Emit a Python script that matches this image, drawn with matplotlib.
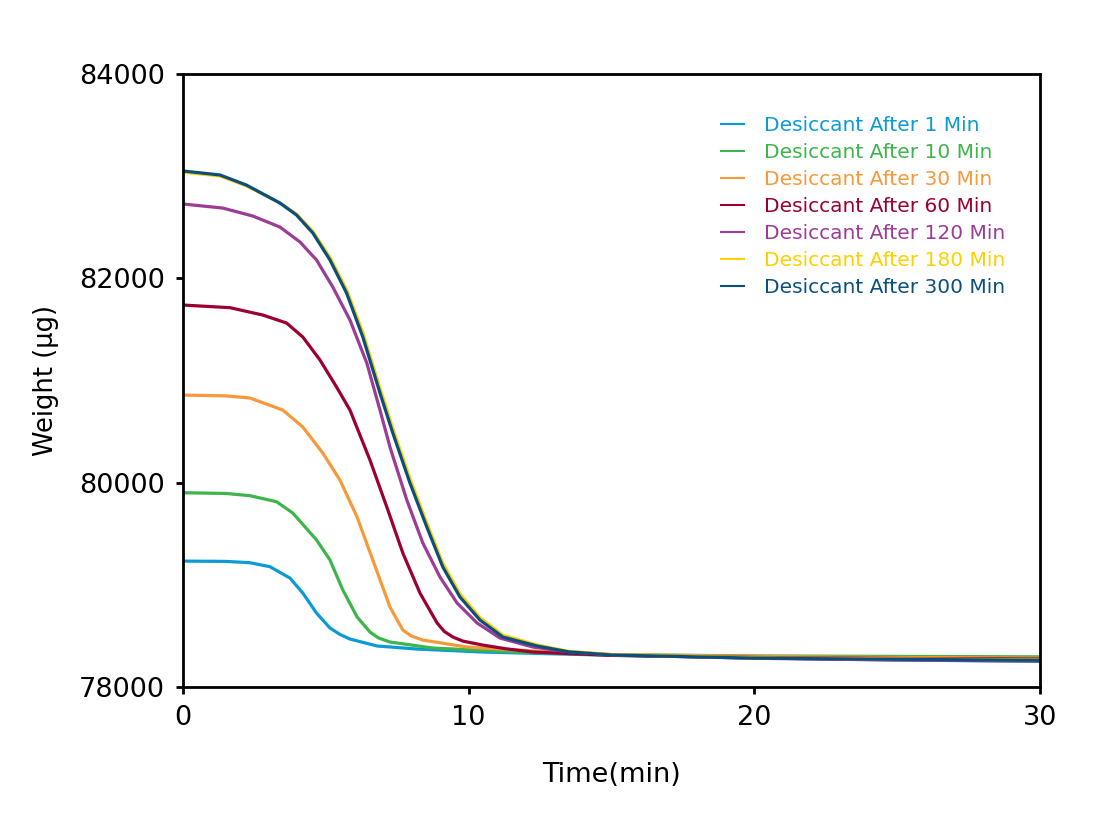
import numpy as np
import matplotlib.pyplot as plt

plt.rcParams['font.family'] = ['DejaVu Sans']

# Curvas: tiempo (min) y peso (µg)
t_1 = [0, 1.5, 2.35, 3.05, 3.75, 4.2, 4.68, 5.15, 5.5, 5.85, 6.8, 8.2, 10.5, 13, 15, 20, 25, 30]
w_1 = [79233, 79230, 79217, 79178, 79067, 78920, 78724, 78578, 78515, 78470, 78402, 78372,
       78343, 78325, 78312, 78285, 78265, 78252]

t_10 = [0, 1.5, 2.35, 3.28, 3.85, 4.68, 5.15, 5.6, 6.1, 6.55, 6.85, 7.25, 8.75, 11.7, 15, 20,
        25, 30]
w_10 = [79902, 79895, 79873, 79814, 79703, 79440, 79244, 78950, 78686, 78539, 78480, 78441,
        78382, 78343, 78318, 78305, 78300, 78296]

t_30 = [0, 1.5, 2.35, 3.5, 4.2, 4.9, 5.5, 6.1, 6.65, 7.25, 7.7, 8.0, 8.4, 9.94, 12.25, 15, 20,
        25, 30]
w_30 = [80858, 80850, 80829, 80711, 80545, 80290, 80026, 79664, 79243, 78783, 78558, 78500,
        78460, 78392, 78353, 78318, 78300, 78290, 78282]

t_60 = [0, 1.65, 2.8, 3.63, 4.2, 4.8, 5.38, 5.85, 6.55, 7.14, 7.7, 8.3, 8.9, 9.15, 9.45, 9.8,
        10.5, 11.3, 12.25, 15, 20, 25, 30]
w_60 = [81739, 81713, 81641, 81563, 81426, 81201, 80937, 80711, 80222, 79762, 79312, 78920,
        78627, 78545, 78490, 78450, 78411, 78375, 78343, 78310, 78290, 78280, 78274]

t_120 = [0, 1.4, 2.45, 3.4, 4.1, 4.68, 5.25, 5.85, 6.44, 6.9, 7.25, 7.84, 8.4, 9.0, 9.6, 10.3,
         11.1, 12.25, 13.5, 15, 20, 25, 30]
w_120 = [82728, 82688, 82610, 82502, 82356, 82180, 81915, 81592, 81171, 80711, 80349, 79830,
         79410, 79077, 78822, 78627, 78480, 78392, 78345, 78315, 78282, 78265, 78255]

t_180 = [0, 1.3, 2.22, 3.4, 3.98, 4.55, 5.15, 5.73, 6.3, 6.9, 7.35, 7.95, 8.54, 9.1, 9.7, 10.4,
         11.2, 12.4, 13.5, 15, 20, 25, 30]
w_180 = [83040, 83002, 82906, 82740, 82628, 82460, 82205, 81890, 81470, 80925, 80530, 80040,
         79605, 79212, 78912, 78680, 78508, 78412, 78350, 78318, 78286, 78276, 78266]

t_300 = [0, 1.3, 2.22, 3.4, 3.98, 4.55, 5.15, 5.73, 6.3, 6.9, 7.35, 7.95, 8.54, 9.1, 9.7, 10.4,
         11.2, 12.4, 13.5, 15, 20, 25, 30]
w_300 = [83051, 83012, 82914, 82737, 82620, 82444, 82180, 81857, 81426, 80878, 80486, 79997,
         79566, 79175, 78881, 78656, 78490, 78402, 78345, 78314, 78283, 78272, 78262]

etiquetas = ['Desiccant After 1 Min', 'Desiccant After 10 Min', 'Desiccant After 30 Min',
             'Desiccant After 60 Min', 'Desiccant After 120 Min', 'Desiccant After 180 Min',
             'Desiccant After 300 Min']
colores = ['#0A9BD7', '#3DB54A', '#F7993A', '#9B0031', '#9C3C97', '#FFD000', '#0B4F7E']
series = [(t_1, w_1), (t_10, w_10), (t_30, w_30), (t_60, w_60),
          (t_120, w_120), (t_180, w_180), (t_300, w_300)]

fig = plt.figure(figsize=(11.08, 8.16), dpi=100)
ax = fig.add_axes([0.165, 0.158, 0.7736, 0.7513])

for (t, w), c, lab in zip(series, colores, etiquetas):
    ax.plot(t, w, color=c, lw=2.3, label=lab, solid_joinstyle='round')

ax.set_xlim(0, 30)
ax.set_ylim(78000, 84000)
ax.set_xticks([0, 10, 20, 30])
ax.set_yticks([78000, 80000, 82000, 84000])
ax.tick_params(direction='out', length=5, width=2, labelsize=19.5, pad=8)
for s in ax.spines.values():
    s.set_linewidth(2)

ax.set_xlabel('Time(min)', fontsize=19.5, labelpad=22)
ax.set_ylabel('Weight (µg)', fontsize=18.5, labelpad=14)

leg = ax.legend(loc='upper left', bbox_to_anchor=(0.619, 0.945), frameon=False,
                fontsize=14.5, labelcolor='linecolor', handlelength=1.1,
                handletextpad=1.0, labelspacing=0.40, borderaxespad=0)
for h in leg.get_lines():
    h.set_linewidth(1.5)

fig.savefig('out.png', dpi=100)
